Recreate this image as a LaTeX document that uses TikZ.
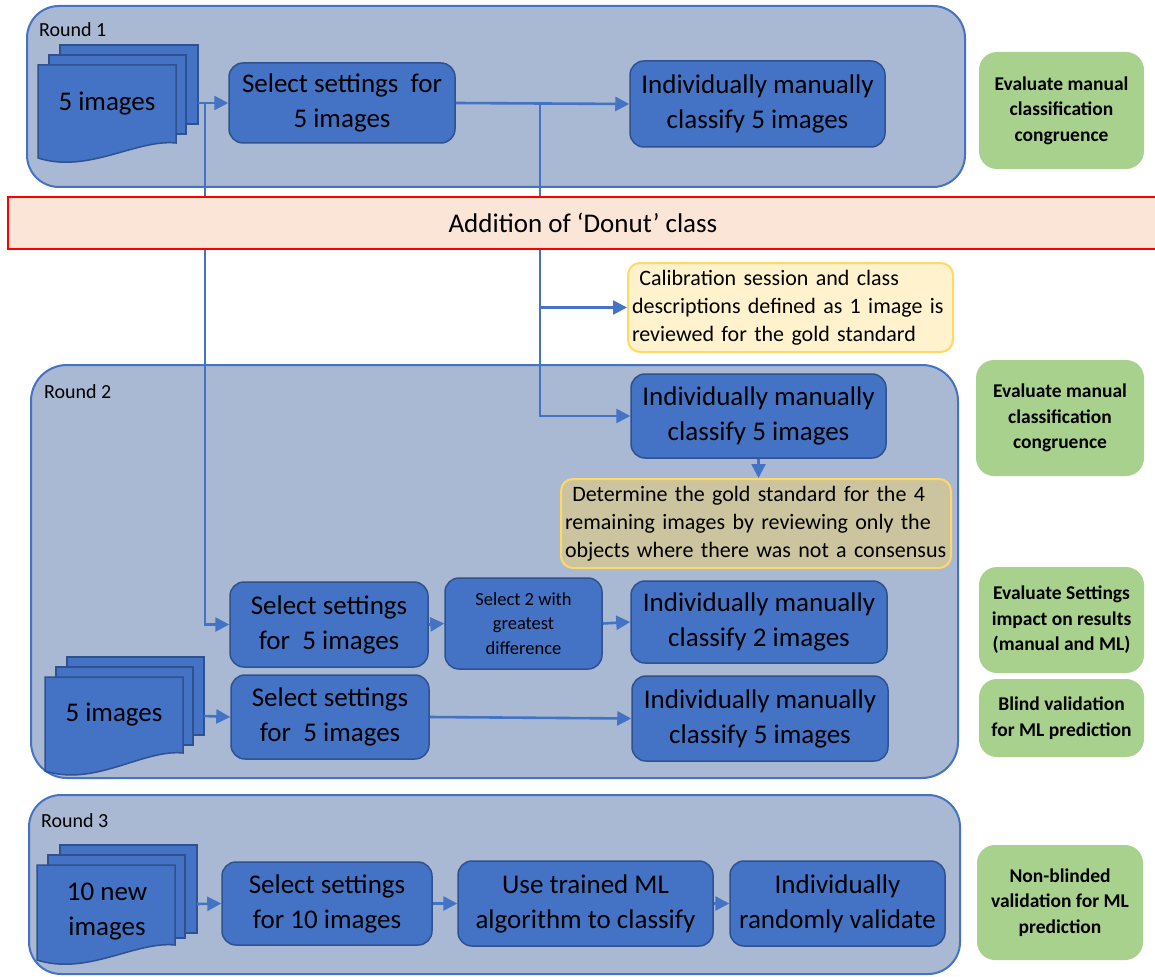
\documentclass[tikz,border=0pt]{standalone}
\usepackage{fontspec}
\setmainfont{Carlito}
\usetikzlibrary{arrows.meta}
\definecolor{roundfill}{RGB}{169,184,211}
\definecolor{accent}{RGB}{68,114,196}
\definecolor{boxline}{RGB}{47,82,143}
\definecolor{bandfill}{RGB}{251,229,214}
\definecolor{bandline}{RGB}{255,0,0}
\definecolor{greenfill}{RGB}{169,209,142}
\definecolor{yelfill}{RGB}{255,242,204}
\definecolor{yelline}{RGB}{255,217,102}
\definecolor{goldfill}{RGB}{203,196,158}
\newcommand\bigf{\fontsize{27}{35}\selectfont}
\newcommand\greenf{\fontsize{19.5}{25.5}\selectfont\bfseries}
\newcommand\notef{\fontsize{22}{28}\selectfont}
\newcommand\smallf{\fontsize{18.5}{24.5}\selectfont}
\newcommand\roundf{\fontsize{20}{24}\selectfont}
\begin{document}
\begin{tikzpicture}[x=1pt,y=-1pt,
  roundbox/.style={draw=accent, line width=2pt, fill=roundfill, rounded corners=32pt, inner sep=0pt},
  bluebox/.style={draw=boxline, line width=1.5pt, fill=accent, rounded corners=14pt, align=center, font=\bigf, inner sep=0pt},
  greenbox/.style={fill=greenfill, rounded corners=18pt, align=center, font=\greenf, inner sep=0pt},
  notebox/.style={draw=yelline, line width=2pt, rounded corners=12pt, align=left, font=\notef, inner xsep=4pt, inner ysep=0pt},
  docshape/.style={draw=boxline, fill=accent, line width=1.5pt},
  doctext/.style={align=center, font=\bigf, inner sep=0pt},
  roundlabel/.style={anchor=west, font=\roundf, inner sep=0pt},
  band/.style={draw=bandline, line width=2.5pt, fill=bandfill, font=\bigf, inner sep=0pt},
  arr/.style={draw=accent, line width=2.6pt, -{Triangle[length=14pt,width=14pt]}},
]
\useasboundingbox (0,0) rectangle (1155,976);

% round containers
\node[roundbox, minimum width=938pt, minimum height=181pt] (r1) at (496,96.5) {};
\node[roundbox, minimum width=927pt, minimum height=413pt, rounded corners=36pt] (r2) at (494.5,571.5) {};
\node[roundbox, minimum width=931pt, minimum height=179pt] (r3) at (494.5,884.5) {};
\node[roundlabel] (lab1) at (39,30) {Round 1};
\node[roundlabel] (lab2) at (44,392) {Round 2};
\node[roundlabel] (lab3) at (41,821) {Round 3};

% document stack 1
\draw[docshape] (60,45) rectangle (198,124);
\draw[docshape] (49,55) rectangle (186,134);
\draw[docshape] (38,65) -- (176,65) -- (176,143) .. controls (136,139) and (88,174) .. (38,158) -- cycle;
\node[doctext] (doc1) at (107,103.5) {5 images};
\coordinate (d1r) at (198,103);

% document stack 2
\draw[docshape] (67,657) rectangle (204,735);
\draw[docshape] (56,667) rectangle (193,745);
\draw[docshape] (45,677) -- (183,677) -- (183,753) .. controls (143,749) and (95,787) .. (45,771) -- cycle;
\node[doctext] (doc2) at (114,714.5) {5 images};
\coordinate (d2r) at (204,716);

% document stack 3
\draw[docshape] (60,845) rectangle (197,933);
\draw[docshape] (48,855) rectangle (185,938);
\draw[docshape] (37,865) -- (175,865) -- (175,945) .. controls (135,941) and (87,976) .. (37,960) -- cycle;
\node[doctext] (doc3) at (107,912) {10 new\\images};
\coordinate (d3r) at (197,904);

% round 1 boxes
\node[bluebox, minimum width=226pt, minimum height=80pt] (sel1) at (342,103) {Select settings\ \ for\\5 images};
\node[bluebox, minimum width=255pt, minimum height=86pt] (ind1) at (757.5,104) {Individually manually\\classify 5 images};

% notes
\node[notebox, fill=yelfill, text width=317pt, minimum height=89pt] (cal) at (790.5,307.5)
  {\ Calibration session and class\\descriptions defined as 1 image is\\reviewed for the gold standard};

% round 2 boxes
\node[bluebox, minimum width=255pt, minimum height=84pt] (ind2) at (758.5,416) {Individually manually\\classify 5 images};
\node[notebox, fill=goldfill, text width=382pt, minimum height=89pt] (gold) at (756,523.5)
  {\ Determine the gold standard for the 4\\remaining images by reviewing only the\\objects where there was not a consensus};
\node[bluebox, minimum width=198pt, minimum height=85pt] (sel2a) at (329,624.5) {Select settings\\for\ \ 5 images};
\node[bluebox, minimum width=157pt, minimum height=91pt, font=\smallf] (pick) at (523.5,623.5) {Select 2 with\\greatest\\difference};
\node[bluebox, minimum width=256pt, minimum height=82pt] (ind2b) at (759,622) {Individually manually\\classify 2 images};
\node[bluebox, minimum width=198pt, minimum height=84pt] (sel2b) at (330,717) {Select settings\\for\ \ 5 images};
\node[bluebox, minimum width=256pt, minimum height=85pt] (ind2c) at (760,718.5) {Individually manually\\classify 5 images};

% round 3 boxes
\node[bluebox, minimum width=210pt, minimum height=83pt] (sel3) at (327,903.5) {Select settings\\for 10 images};
\node[bluebox, minimum width=255pt, minimum height=85pt] (ml) at (585.5,903.5) {Use trained ML\\algorithm to classify};
\node[bluebox, minimum width=215pt, minimum height=85pt] (val) at (837.5,903.5) {Individually\\randomly validate};

% green evaluation boxes
\node[greenbox, minimum width=165pt, minimum height=117pt] (g1) at (1061.5,110.5) {Evaluate manual\\classification\\congruence};
\node[greenbox, minimum width=168pt, minimum height=116pt] (g2) at (1060,418) {Evaluate manual\\classification\\congruence};
\node[greenbox, minimum width=165pt, minimum height=106pt] (g3) at (1061.5,620) {Evaluate Settings\\impact on results\\(manual and ML)};
\node[greenbox, minimum width=165pt, minimum height=78pt] (g4) at (1061.5,718) {Blind validation\\for ML prediction};
\node[greenbox, minimum width=166pt, minimum height=115pt] (g5) at (1060,902.5) {Non-blinded\\validation for ML\\prediction};

% connectors
\coordinate (j1) at (205,103);
\coordinate (j2) at (540,103);
\draw[arr] (d1r) -- (sel1.west);
\draw[arr] (j1) |- (sel2a.west);
\draw[arr] (sel1.east) -- (ind1.west);
\draw[arr] (j2) |- (cal.west);
\draw[arr] (j2) |- (ind2.west);
\draw[arr] (ind2.south) -- (ind2.south |- gold.north);
\draw[arr] (sel2a.east) -- (pick.west);
\draw[arr] (pick.east) -- (ind2b.west);
\draw[arr] (d2r) -- (sel2b.west);
\draw[arr] (sel2b.east) -- (ind2c.west);
\draw[arr] (d3r) -- (sel3.west);
\draw[arr] (sel3.east) -- (ml.west);
\draw[arr] (ml.east) -- (val.west);

% band on top of the lines
\node[band, minimum width=1150pt, minimum height=52pt] (donut) at (583,223) {Addition of ‘Donut’ class};
\end{tikzpicture}
\end{document}
